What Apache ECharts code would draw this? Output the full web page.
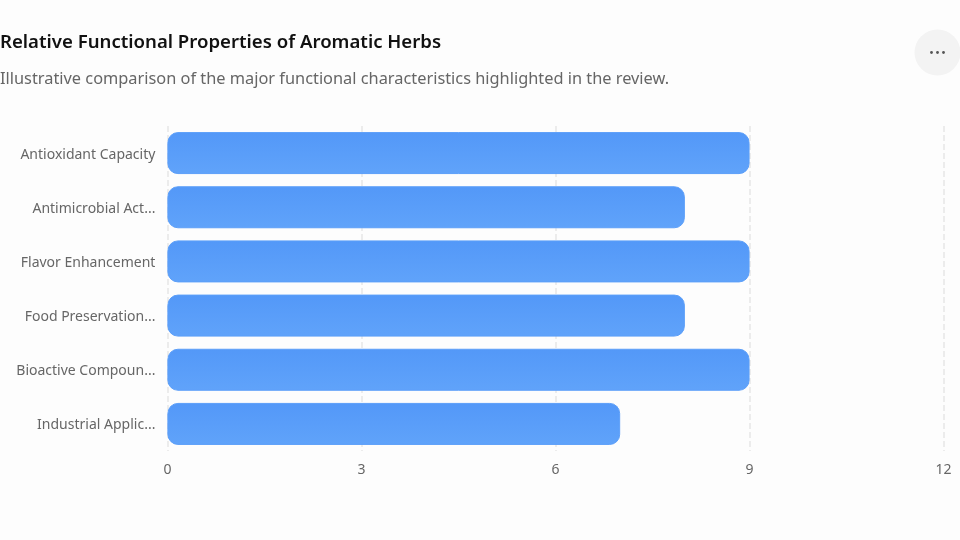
<!DOCTYPE html>
<html>
<head>
<meta charset="utf-8">
<style>html,body{margin:0;padding:0;background:#fdfdfd}#c{width:960px;height:540px}</style>
<script src="https://cdn.jsdelivr.net/npm/echarts@6/dist/echarts.min.js"></script>
</head>
<body>
<div id="c"></div>
<script>
const categories = ["Antioxidant Capacity","Antimicrobial Act...","Flavor Enhancement","Food Preservation...","Bioactive Compoun...","Industrial Applic..."];
const values = [9,8,9,8,9,7];
const xTicks = {min:0,max:12,interval:3};
const titleText = "Relative Functional Properties of Aromatic Herbs";
const subtitleText = "Illustrative comparison of the major functional characteristics highlighted in the review.";
const FONT = '"Noto Sans","Open Sans",sans-serif';
const chart = echarts.init(document.getElementById('c'),null,{renderer:'canvas'});
chart.setOption({
  animation:false,
  backgroundColor:'#fdfdfd',
  title:[
    {text:titleText,left:0,top:33,padding:0,textStyle:{fontFamily:FONT,fontSize:18.6,fontWeight:600,color:'#111111'}},
    {text:subtitleText,left:0,top:71,padding:0,textStyle:{fontFamily:FONT,fontSize:16.35,fontWeight:400,color:'#666666'}}
  ],
  grid:{left:167.4,right:16.4,top:126,bottom:89,containLabel:false},
  xAxis:{type:'value',min:xTicks.min,max:xTicks.max,interval:xTicks.interval,
    axisLine:{show:false},axisTick:{show:false},
    axisLabel:{fontFamily:FONT,fontSize:14,color:'#666666',margin:12},
    splitLine:{show:true,lineStyle:{type:'dashed',color:'#e6e6e6',width:1.5}}},
  yAxis:{type:'category',inverse:true,data:categories,
    axisLine:{show:false},axisTick:{show:false},
    axisLabel:{fontFamily:FONT,fontSize:14,color:'#666666',margin:12,verticalAlign:'top',lineHeight:3}},
  series:[{type:'bar',data:values,barWidth:42,
    itemStyle:{borderRadius:10,borderColor:'#5c9ff9',borderWidth:1,
      color:new echarts.graphic.LinearGradient(0,0,0,1,[{offset:0,color:'#5398f8'},{offset:1,color:'#60a3fa'}])}}],
  graphic:[
    {type:'circle',shape:{cx:937.5,cy:52.5,r:23},style:{fill:'#f3f3f3'}},
    {type:'circle',shape:{cx:931.5,cy:52.5,r:1.4},style:{fill:'#555'}},
    {type:'circle',shape:{cx:937.5,cy:52.5,r:1.4},style:{fill:'#555'}},
    {type:'circle',shape:{cx:943.5,cy:52.5,r:1.4},style:{fill:'#555'}}
  ]
});
</script>
</body>
</html>
